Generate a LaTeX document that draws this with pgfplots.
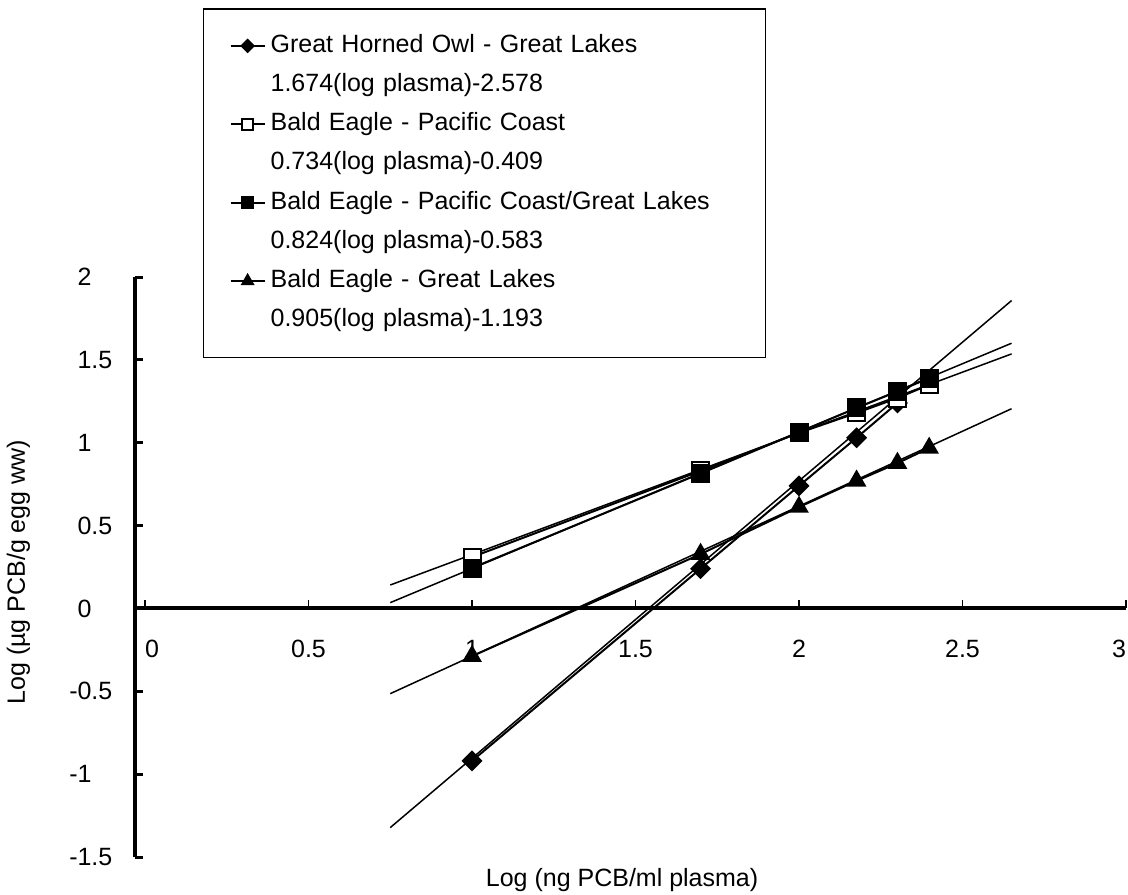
\documentclass[border=0pt]{standalone}
\usepackage{fontspec}
\setmainfont{Liberation Sans}
\usepackage{pgfplots}
\pgfplotsset{compat=1.18}

\newcommand{\chartfont}{\fontsize{12.5bp}{15bp}\selectfont}

\begin{document}
\begin{tikzpicture}
\useasboundingbox (0,0) rectangle (564bp,447.5bp);
\begin{axis}[
  at={(67.6bp,19bp)}, anchor=south west,
  x=163.5bp, y=82.85bp,
  xmin=-0.03, xmax=3, ymin=-1.5, ymax=2,
  axis x line=middle, axis y line=left,
  axis line style={-, line width=2bp, black},
  hide obscured x ticks=false, hide obscured y ticks=false,
  tick align=inside, major tick length=4bp,
  xtick={0,0.5,1,1.5,2,2.5,3},
  xticklabels={\makebox[0pt][l]{0},0.5,1,1.5,2,2.5,\makebox[0pt][r]{3}},
  ytick={-1.5,-1,-0.5,0,0.5,1,1.5,2},
  yticklabels={\llap{-}1.5,\llap{-}1,\llap{-}0.5,0,0.5,1,1.5,2},
  xtick style={line width=0.6bp, black},
  ytick style={line width=1.5bp, black},
  ticklabel style={font=\chartfont},
  xticklabel style={anchor=north, yshift=-12.5bp},
  yticklabel style={anchor=west, xshift=-29bp, inner xsep=0pt},
  xlabel={Log (ng PCB/ml plasma)},
  ylabel={Log (µg PCB/g egg ww)},
  label style={font=\chartfont},
  xlabel style={at={(axis description cs:0.4914,-0.0397)}, anchor=center},
  ylabel style={at={(axis description cs:-0.118,0.491)}, anchor=center},
  legend cell align=left,
  legend image post style={every mark/.append style={scale=0.65}},
  legend style={
    at={(0.0683,1.4637)}, anchor=north west,
    draw=black, line width=0.75bp, fill=white,
    font=\chartfont,
    inner xsep=13bp, inner ysep=12.25bp,
    row sep=7.1bp,
    nodes={inner xsep=2.5bp, inner ysep=0pt, text height=9.5bp, text depth=3bp, text width=232bp},
  },
]

% fitted regression lines, from the equations in the legend
\addplot[forget plot, black, line width=0.75bp] coordinates {(0.75,-1.3225) (2.65,1.8581)};
\addplot[forget plot, black, line width=0.75bp] coordinates {(0.75,0.1415) (2.65,1.5361)};
\addplot[forget plot, black, line width=0.75bp] coordinates {(0.75,0.0350) (2.65,1.6006)};
\addplot[forget plot, black, line width=0.75bp] coordinates {(0.75,-0.5143) (2.65,1.2053)};

% Great Horned Owl - Great Lakes
\addplot[black, line width=1bp, mark=square*, mark size=3.2bp,
  mark options={solid, rotate=45, fill=black}]
  coordinates {(1,-0.92) (1.699,0.24) (2,0.74) (2.176,1.03) (2.301,1.24)};
\addlegendentry{Great Horned Owl - Great Lakes}
\addlegendimage{empty legend}
\addlegendentry{1.674(log plasma)-2.578}

% Bald Eagle - Pacific Coast
\addplot[black, line width=1bp, mark=square*, mark size=4.25bp,
  mark options={solid, fill=white, line width=1bp}]
  coordinates {(1,0.31) (1.699,0.83) (2,1.06) (2.176,1.18) (2.301,1.27) (2.398,1.35)};
\addlegendentry{Bald Eagle - Pacific Coast}
\addlegendimage{empty legend}
\addlegendentry{0.734(log plasma)-0.409}

% Bald Eagle - Pacific Coast/Great Lakes
\addplot[black, line width=1bp, mark=square*, mark size=4.25bp,
  mark options={solid, fill=black}]
  coordinates {(1,0.244) (1.699,0.815) (2,1.064) (2.176,1.21) (2.301,1.31) (2.398,1.39)};
\addlegendentry{Bald Eagle - Pacific Coast/Great Lakes}
\addlegendimage{empty legend}
\addlegendentry{0.824(log plasma)-0.583}

% Bald Eagle - Great Lakes
\addplot[black, line width=1bp, mark=triangle*, mark size=4.7bp,
  mark options={solid, fill=black}]
  coordinates {(1,-0.288) (1.699,0.328) (2,0.612) (2.176,0.77) (2.301,0.877) (2.398,0.968)};
\addlegendentry{Bald Eagle - Great Lakes}
\addlegendimage{empty legend}
\addlegendentry{0.905(log plasma)-1.193}

\end{axis}
\end{tikzpicture}
\end{document}
